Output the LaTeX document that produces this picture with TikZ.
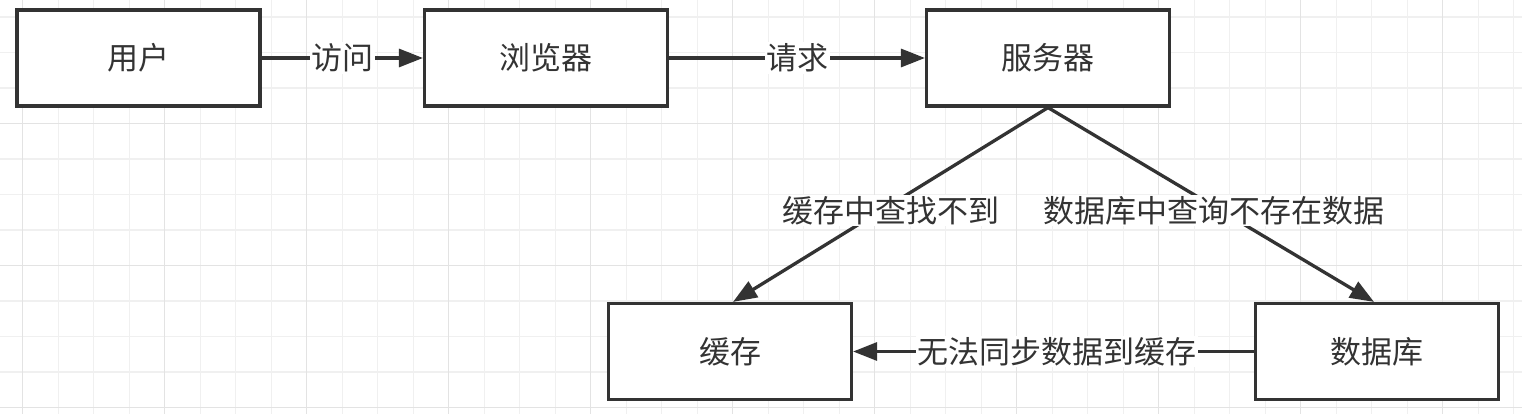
\documentclass[tikz,border=0pt]{standalone}
\usepackage{fontspec}
\setmainfont{Noto Sans CJK SC}
\usetikzlibrary{arrows.meta}
\definecolor{ink}{HTML}{333333}
\definecolor{gridminor}{HTML}{F0F0F0}
\definecolor{gridmajor}{HTML}{E3E3E3}
\begin{document}
\begin{tikzpicture}[x=1pt,y=-1pt,
  box/.style={draw=ink, line width=3.2pt, fill=white, minimum width=243pt, minimum height=96pt, inner sep=0pt, font=\fontsize{31}{37}\selectfont, text=ink},
  conn/.style={draw=ink, line width=3.3pt, -{Triangle[length=24pt,width=18pt]}},
  lbl/.style={fill=white, inner sep=1.5pt, font=\fontsize{31}{37}\selectfont, text=ink},
  minorline/.style={draw=gridminor, line width=1.3pt},
  majorline/.style={draw=gridmajor, line width=1.5pt}]
\fill[white] (0,0) rectangle (1522,414);
\useasboundingbox (0,0) rectangle (1522,414);
% grid
\foreach \i in {0,...,42} {\draw[minorline] (22.7+35.5*\i,0) -- (22.7+35.5*\i,414);}
\foreach \j in {0,...,11} {\draw[minorline] (0,17+35.5*\j) -- (1522,17+35.5*\j);}
\foreach \i in {0,...,10} {\draw[majorline] (22.7+142*\i,0) -- (22.7+142*\i,414);}
\foreach \j in {0,1,2} {\draw[majorline] (0,123.5+142*\j) -- (1522,123.5+142*\j);}
% nodes
\node[box] (user) at (138.5,58) {用户};
\node[box] (browser) at (546,58) {浏览器};
\node[box] (server) at (1048,58) {服务器};
\node[box] (cache) at (730,351.5) {缓存};
\node[box] (db) at (1377,351.5) {数据库};
% connectors
\draw[conn] (user) -- node[lbl] {访问} (browser);
\draw[conn] (browser) -- node[lbl] {请求} (server);
\draw[conn] (server.south) -- node[lbl,pos=0.53,xshift=10pt] {缓存中查找不到} ([xshift=3pt]cache.north);
\draw[conn] (server.south) -- node[lbl,pos=0.53,xshift=-7pt] {数据库中查询不存在数据} ([xshift=-3pt]db.north);
\draw[conn] (db) -- node[lbl,xshift=3pt] {无法同步数据到缓存} (cache);
\end{tikzpicture}
\end{document}
